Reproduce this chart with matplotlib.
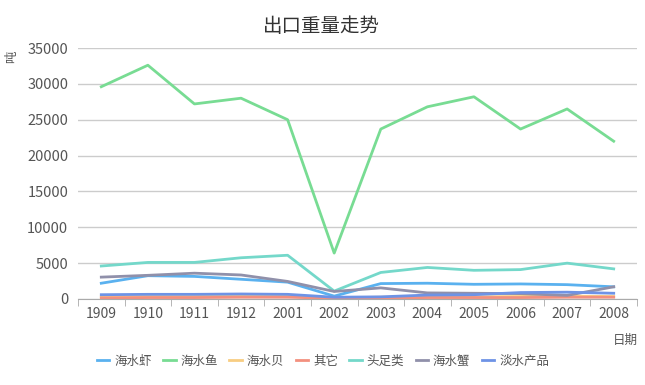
import matplotlib
matplotlib.use("Agg")
import matplotlib.pyplot as plt
from matplotlib.lines import Line2D
import numpy as np

plt.rcParams['font.family'] = ['Noto Sans CJK SC', 'DejaVu Sans']

# ============================================
#              data
# ============================================
years = ["1909", "1910", "1911", "1912", "2001", "2002",
         "2003", "2004", "2005", "2006", "2007", "2008"]
series_names = ["海水虾", "海水鱼", "海水贝", "其它", "头足类", "海水蟹", "淡水产品"]

shrimp = [2200, 3250, 3150, 2750, 2350, 400, 2150, 2200, 2050, 2100, 2000, 1700]
fish = [29600, 32600, 27200, 28000, 25000, 6400, 23700, 26800, 28200, 23700, 26500, 22000]
shell = [300, 350, 350, 450, 400, 150, 250, 300, 300, 350, 400, 350]
other = [150, 200, 200, 250, 250, 100, 150, 200, 200, 200, 250, 250]
cephalopod = [4600, 5100, 5100, 5750, 6100, 1100, 3700, 4400, 4000, 4100, 5000, 4200]
crab = [3050, 3300, 3600, 3350, 2450, 1050, 1550, 850, 800, 750, 500, 1700]
freshwater = [600, 650, 650, 700, 650, 250, 300, 550, 600, 900, 950, 800]

colors = ["#5ab1ef", "#78dc93", "#f8cd82", "#f3907f", "#74d8ca", "#9090aa", "#6e93e6"]


# ============================================
#              plot
# ============================================
def main():
    fig = plt.figure(figsize=(6.45, 3.85), dpi=100)
    ax = fig.add_axes([78 / 645, 1 - 299 / 385, 559 / 645, 251 / 385])

    x = np.arange(len(years))
    data = [shrimp, fish, shell, other, cephalopod, crab, freshwater]
    for vals, c, name in zip(data, colors, series_names):
        ax.plot(x, vals, color=c, linewidth=2, label=name, solid_joinstyle="round")

    ax.set_xlim(-0.5, len(years) - 0.5)
    ax.set_ylim(0, 35000)
    ax.set_yticks(np.arange(0, 35001, 5000))
    ax.set_xticks(x)
    ax.set_xticklabels(years)
    ax.set_xticks(np.arange(-0.5, len(years), 1), minor=True)
    ax.tick_params(axis="x", which="major", length=0, pad=6, labelsize=10, colors="#555555")
    ax.tick_params(axis="x", which="minor", length=5, color="#aaaaaa")
    ax.tick_params(axis="y", length=0, pad=7, labelsize=10.5, colors="#555555")

    ax.grid(axis="y", color="#cccccc", linewidth=1)
    ax.set_axisbelow(True)
    for s in ["top", "right", "left"]:
        ax.spines[s].set_visible(False)
    ax.spines["bottom"].set_color("#aaaaaa")

    fig.text(321 / 645, 1 - 27 / 385, "出口重量走势", ha="center", va="center",
             fontsize=14, color="#333333")
    fig.text(12 / 645, 1 - 57 / 385, "吨", ha="center", va="center",
             fontsize=9, color="#555555", rotation=90)
    fig.text(625 / 645, 1 - 340 / 385, "日期", ha="center", va="center",
             fontsize=9, color="#555555")

    handles = [Line2D([0], [0], color=c, linewidth=2) for c in colors]
    fig.legend(handles, series_names, loc="center", bbox_to_anchor=(323 / 645, 1 - 361 / 385),
               ncol=7, frameon=False, fontsize=9, handlelength=1.0, handletextpad=0.4,
               columnspacing=0.9, labelcolor="#555555")

    fig.savefig("out.png", dpi=100)


main()
